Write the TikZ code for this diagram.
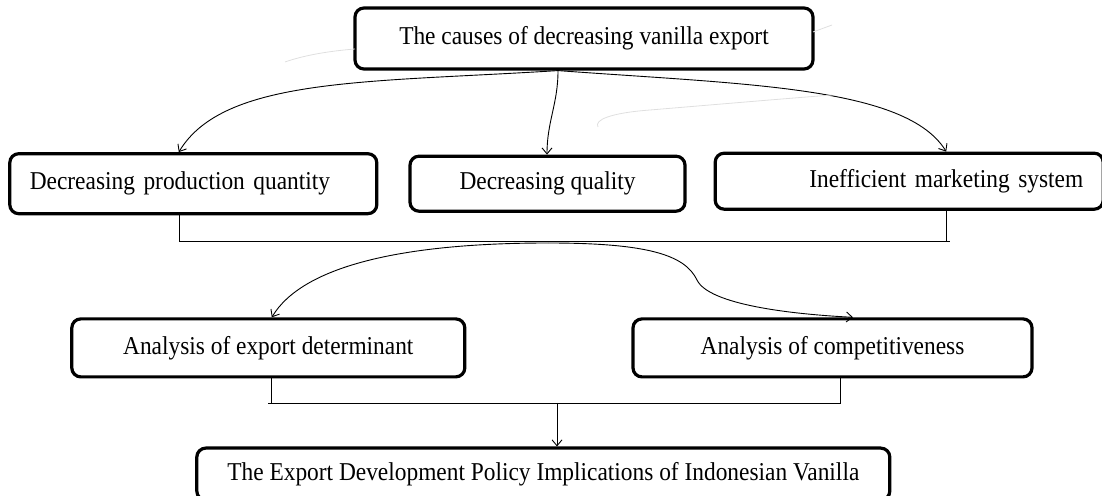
\documentclass[tikz,border=0pt]{standalone}
\usepackage{fontspec}
\setmainfont[FakeStretch=0.91]{Liberation Serif}
\usetikzlibrary{positioning,arrows.meta}

\begin{document}
\begin{tikzpicture}[x=1pt,y=1pt,
    box/.style={draw,line width=3.2pt,rounded corners=9pt,inner sep=0pt,font=\fontsize{25.7}{30}\selectfont},
    flow/.style={line width=0.9pt,-{Straight Barb[length=6pt,width=10pt]}},
    link/.style={line width=0.9pt},
    smudge/.style={gray!25,line width=0.8pt}]
  \useasboundingbox (0,0) rectangle (1102,495);
  % boxes
  \node[box,minimum width=458pt,minimum height=61pt] (causes) at (584,456.5) {The causes of decreasing vanilla export};
  \node[box,minimum width=275pt,minimum height=55pt,below=84pt of causes,xshift=-36.5pt] (quality) {Decreasing quality};
  \node[box,minimum height=60pt,text width=327pt,inner xsep=20pt,align=left,left=30pt of quality] (prodqty) {Decreasing production quantity};
  \node[box,minimum height=56pt,text width=348pt,inner xsep=20pt,align=right,right=27pt of quality,yshift=2.5pt] (marketing) {Inefficient marketing system};
  \node[box,minimum width=393pt,minimum height=58pt,below right=102pt and 62pt of prodqty.south west] (analdet) {Analysis of export determinant};
  \node[box,minimum width=399pt,minimum height=58pt,right=165pt of analdet] (analcomp) {Analysis of competitiveness};
  \node[box,minimum width=693pt,minimum height=52pt,below right=68pt and 125pt of analdet.south west] (policy) {The Export Development Policy Implications of Indonesian Vanilla};
  % causes -> three problems
  \coordinate (fork) at ([xshift=-26pt]causes.south);
  \draw[flow] (fork) .. controls +(-190,-12) and +(45,75) .. ([xshift=-14.5pt]prodqty.north);
  \draw[flow] (fork) to[out=-90,in=90] ([xshift=-0.5pt]quality.north);
  \draw[flow] (fork) .. controls +(190,-14) and +(-40,65) .. ([xshift=37pt]marketing.north);
  % problems joined
  \coordinate (joinA) at (950,254);
  \draw[link] ([xshift=-13.5pt]prodqty.south) |- (joinA);
  \draw[link] ([xshift=37pt]marketing.south) |- (joinA);
  % split to the two analyses
  \coordinate (split) at (548,252);
  \coordinate (bend) at (697,215);
  \draw[flow] (split) .. controls +(-150,0) and +(30,50) .. ([xshift=3.5pt]analdet.north);
  \draw[flow] (split) .. controls +(100,0) and +(-12,25) .. (bend) .. controls +(12,-25) and +(-60,3) .. ([xshift=20.5pt]analcomp.north);
  % analyses joined
  \coordinate (joinB) at (268,92);
  \coordinate (drop) at (557,92);
  \draw[link] ([xshift=3.5pt]analdet.south) |- (joinB);
  \draw[link] (joinB) -| ([xshift=7.5pt]analcomp.south);
  \draw[flow] (drop) -- (drop |- policy.north);
  % faint marks of the scan
  \draw[smudge] (285,433) .. controls (305,440) and (330,444) .. (355,446);
  \draw[smudge] (813,463) -- (832,470);
  \draw[smudge] (598,368) .. controls (594,375) and (610,382) .. (650,385) .. controls (710,390) and (780,396) .. (832,400);
\end{tikzpicture}
\end{document}
